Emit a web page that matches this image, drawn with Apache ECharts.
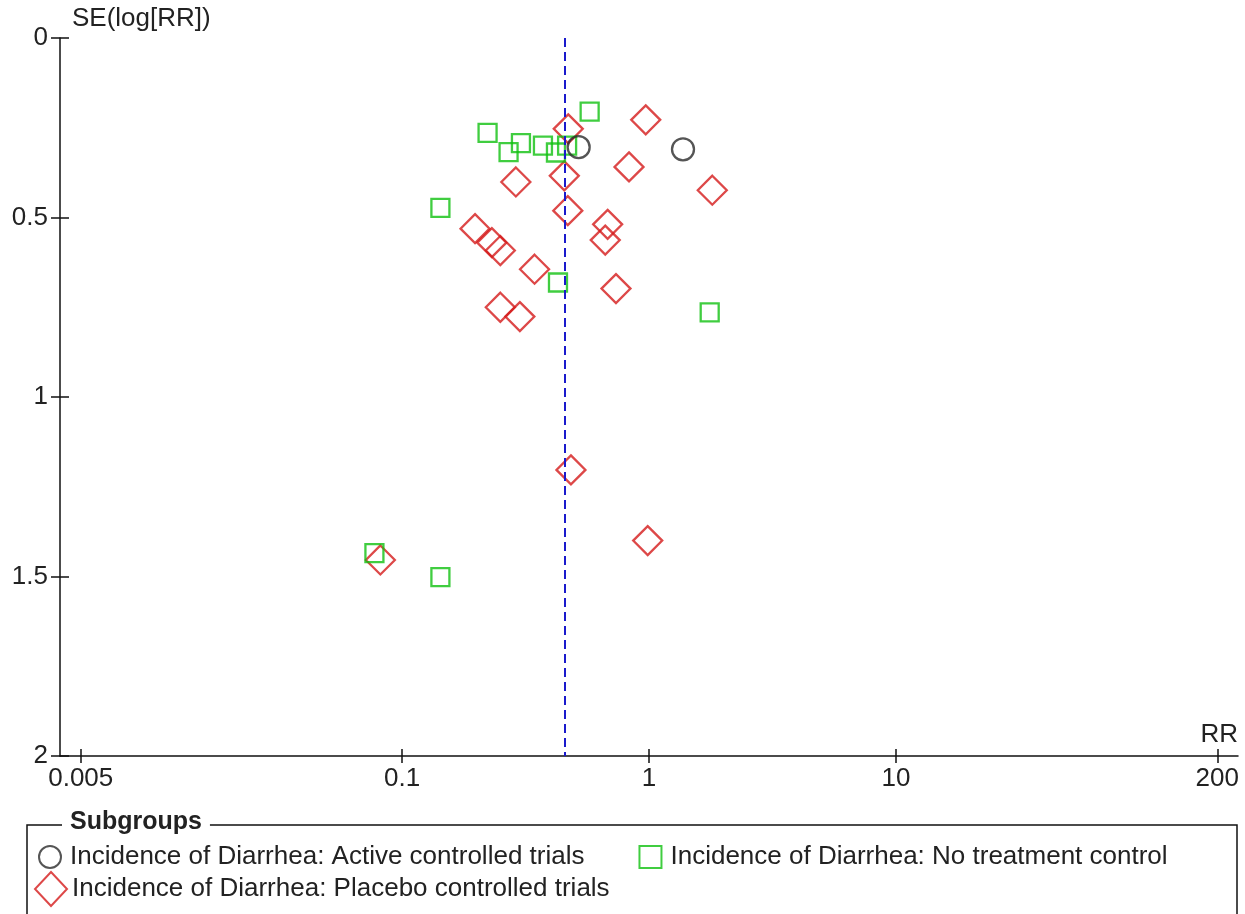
<!DOCTYPE html>
<html>
<head>
<meta charset="utf-8">
<script src="https://cdn.jsdelivr.net/npm/echarts@6/dist/echarts.min.js"></script>
<style>
  html, body { margin: 0; padding: 0; background: #fff; }
  #chart { width: 1245px; height: 914px; }
</style>
</head>
<body>
<div id="chart"></div>
<script>
// Funnel plot: risk ratio (log scale) against its standard error, by subgroup.
const groupNames = [
  'Incidence of Diarrhea: Active controlled trials',
  'Incidence of Diarrhea: No treatment control',
  'Incidence of Diarrhea: Placebo controlled trials'
];

const activeRR = [0.519, 1.373];
const activeSE = [0.304, 0.310];

const noTreatRR = [0.575, 0.222, 0.303, 0.270, 0.372, 0.420, 0.466, 0.143, 0.428, 1.761, 0.0773, 0.143];
const noTreatSE = [0.205, 0.264, 0.293, 0.318, 0.300, 0.319, 0.300, 0.473, 0.681, 0.764, 1.435, 1.502];

const placeboRR = [0.471, 0.289, 0.454, 0.469, 0.970, 0.830, 1.804, 0.1975, 0.231, 0.250,
                   0.680, 0.665, 0.344, 0.735, 0.250, 0.300, 0.483, 0.988, 0.0817];
const placeboSE = [0.253, 0.401, 0.384, 0.481, 0.228, 0.359, 0.424, 0.531, 0.570, 0.592,
                   0.519, 0.563, 0.644, 0.698, 0.750, 0.776, 1.203, 1.400, 1.454];

const pooledRR = 0.457;

const xTickValues = [0.005, 0.1, 1, 10, 200];
const xTickLabels = ['0.005', '0.1', '1', '10', '200'];
const xRangeLog = [-2.385, 2.385];

const FONT = '"Liberation Sans", Arial, sans-serif';
const TEXT = '#222';
const LINE = '#111';

const log10 = v => Math.log10(v);
const toPoints = (rr, se) => rr.map((r, i) => [log10(r), se[i]]);
const xTickLog = xTickValues.map(log10);

function xLabel(v) {
  let best = 0;
  xTickLog.forEach((t, i) => { if (Math.abs(t - v) < Math.abs(xTickLog[best] - v)) best = i; });
  return xTickLabels[best];
}

const chart = echarts.init(document.getElementById('chart'), null, { renderer: 'canvas' });

const hollow = (color, w) => ({ color: 'rgba(0,0,0,0)', borderColor: color, borderWidth: w });
const tickLine = { color: LINE, width: 1.5 };

const option = {
  animation: false,
  backgroundColor: '#fff',
  textStyle: { fontFamily: FONT },
  grid: { left: 60, right: 7, top: 38, bottom: 158, containLabel: false },
  xAxis: [
    {
      type: 'value', min: xRangeLog[0], max: xRangeLog[1], position: 'bottom',
      axisLine: { show: true, onZero: false, lineStyle: { color: LINE, width: 1.5 } },
      axisTick: { show: true, length: 7, customValues: xTickLog, lineStyle: tickLine },
      axisLabel: { show: true, customValues: xTickLog, formatter: xLabel, margin: 10,
                   color: TEXT, fontSize: 26, fontFamily: FONT },
      splitLine: { show: false }
    },
    {
      type: 'value', min: xRangeLog[0], max: xRangeLog[1], position: 'bottom',
      axisLine: { show: false, onZero: false },
      axisTick: { show: true, inside: true, length: 7, customValues: xTickLog, lineStyle: tickLine },
      axisLabel: { show: false },
      splitLine: { show: false }
    }
  ],
  yAxis: [
    {
      type: 'value', inverse: true, min: 0, max: 2, interval: 0.5, position: 'left',
      axisLine: { show: true, onZero: false, lineStyle: { color: LINE, width: 1.5 } },
      axisTick: { show: true, length: 9, lineStyle: tickLine },
      axisLabel: { show: true, margin: 12, color: TEXT, fontSize: 26, fontFamily: FONT },
      splitLine: { show: false }
    },
    {
      type: 'value', inverse: true, min: 0, max: 2, interval: 0.5, position: 'left',
      axisLine: { show: false, onZero: false },
      axisTick: { show: true, inside: true, length: 9, lineStyle: tickLine },
      axisLabel: { show: false },
      splitLine: { show: false }
    }
  ],
  legend: [
    {
      data: [groupNames[0], groupNames[1]],
      left: 33, top: 839, orient: 'horizontal',
      itemWidth: 22, itemHeight: 22, itemGap: 54,
      textStyle: { color: TEXT, fontSize: 26, fontFamily: FONT, padding: [0, 0, 0, 4] },
      selectedMode: false
    },
    {
      data: [groupNames[2]],
      left: 29, top: 866, orient: 'horizontal',
      itemWidth: 32, itemHeight: 34, itemGap: 10,
      textStyle: { color: TEXT, fontSize: 26, fontFamily: FONT, padding: [0, 0, 0, 0] },
      selectedMode: false
    }
  ],
  graphic: [
    { type: 'text', left: 72, top: 6,
      style: { text: 'SE(log[RR])', font: '26px ' + FONT, fill: TEXT } },
    { type: 'text', right: 7, top: 722,
      style: { text: 'RR', font: '26px ' + FONT, fill: TEXT } },
    { type: 'rect', shape: { x: 27, y: 825, width: 1210, height: 140 },
      style: { fill: 'none', stroke: LINE, lineWidth: 1.5 }, z: 1 },
    { type: 'text', left: 62, top: 810, z: 2,
      style: { text: 'Subgroups', font: 'bold 25px ' + FONT, fill: TEXT,
               backgroundColor: '#fff', padding: [0, 8, 0, 8] } }
  ],
  series: [
    {
      name: groupNames[2], type: 'scatter', z: 2,
      symbol: 'diamond', symbolSize: [29, 29],
      itemStyle: hollow('#d41a1a', 2.3),
      emphasis: { disabled: true },
      data: toPoints(placeboRR, placeboSE),
      markLine: {
        silent: true, symbol: 'none', animation: false,
        label: { show: false },
        lineStyle: { color: '#1a1acc', type: [9, 5], width: 2 },
        data: [{ xAxis: log10(pooledRR) }]
      }
    },
    {
      name: groupNames[1], type: 'scatter', z: 3,
      symbol: 'rect', symbolSize: 18,
      itemStyle: hollow('#10c010', 2.3),
      emphasis: { disabled: true },
      data: toPoints(noTreatRR, noTreatSE)
    },
    {
      name: groupNames[0], type: 'scatter', z: 4,
      symbol: 'circle', symbolSize: 22,
      itemStyle: hollow('#2a2a2a', 2.3),
      emphasis: { disabled: true },
      data: toPoints(activeRR, activeSE)
    }
  ]
};

chart.setOption(option);
</script>
</body>
</html>
